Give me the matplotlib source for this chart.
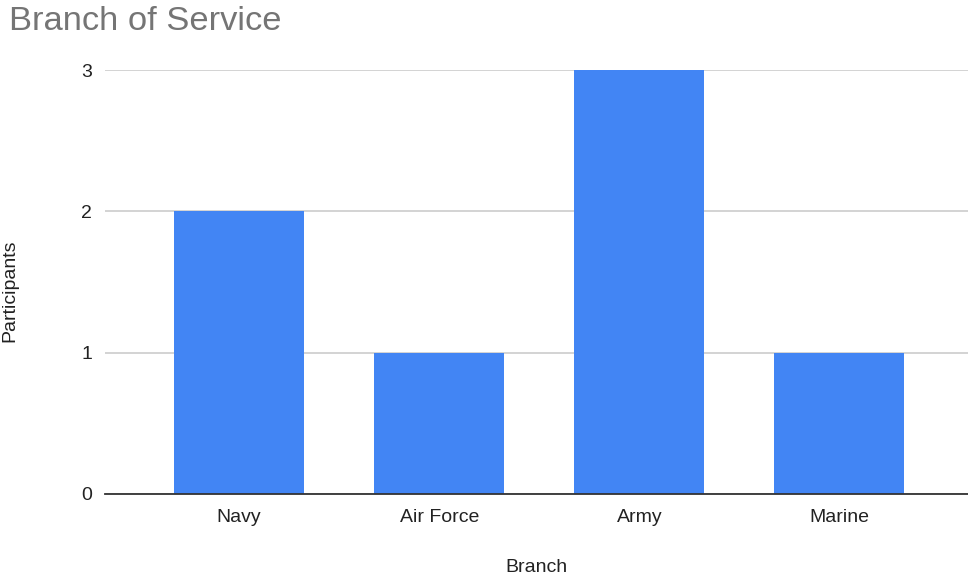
import matplotlib.pyplot as plt

plt.rcParams['font.family'] = ['Liberation Sans', 'DejaVu Sans']

# --- data ---
branches = ["Navy", "Air Force", "Army", "Marine"]
participants = [2, 1, 3, 1]

BAR_COLOR = "#4285F4"

fig = plt.figure(figsize=(9.68, 5.79), dpi=100)
ax = fig.add_axes([0.108, 0.147, 0.892, 0.732])

x = list(range(len(branches)))
ax.bar(x, participants, width=0.65, color=BAR_COLOR, zorder=3)

ax.set_xlim(-0.6725, 3.6425)
ax.set_ylim(0, 3)
ax.set_yticks([0, 1, 2, 3])
ax.set_xticks(x)
ax.set_xticklabels(branches)

# gridlines and baseline
ax.yaxis.grid(True, color="#cccccc", linewidth=1.2, zorder=0)
ax.set_axisbelow(True)
for side in ("top", "right", "left"):
    ax.spines[side].set_visible(False)
ax.spines["bottom"].set_color("#333333")
ax.spines["bottom"].set_linewidth(1.3)
ax.spines["bottom"].set_zorder(4)
ax.tick_params(axis="both", length=0, labelsize=14, colors="#222222")
ax.tick_params(axis="y", pad=9)
ax.tick_params(axis="x", pad=11)

ax.set_xlabel("Branch", fontsize=14, color="#222222", labelpad=24)
ax.set_ylabel("Participants", fontsize=14, color="#222222")
ax.yaxis.set_label_coords(-0.1, 0.48)

fig.text(0.009, 0.99, "Branch of Service", fontsize=24.8, color="#757575",
         ha="left", va="top")

fig.savefig("out.png", dpi=100)
